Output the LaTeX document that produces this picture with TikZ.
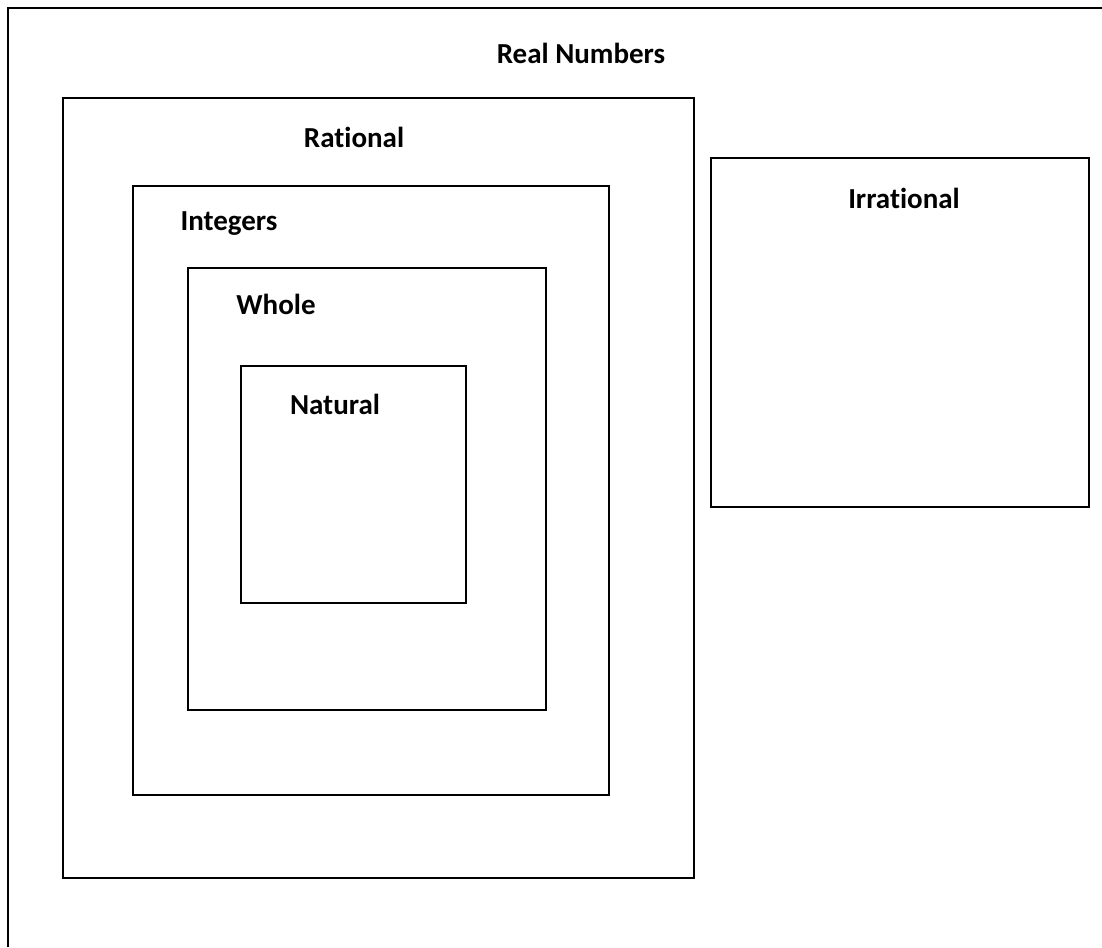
\documentclass[tikz,border=0pt]{standalone}
\usepackage{fontspec}
\setmainfont{Carlito}[Ligatures={NoCommon}]
\begin{document}
\begin{tikzpicture}[x=1pt,y=-1pt,
  setbox/.style={draw=black,line width=2pt,inner sep=0pt,outer sep=0pt},
  lbl/.style={font=\fontsize{29}{35}\selectfont\bfseries,inner sep=0pt,anchor=center}]
\useasboundingbox (0,0) rectangle (1102,947);
\fill[white] (0,0) rectangle (1102,947);
% outer Real Numbers frame (open on right and bottom)
\coordinate (rb) at (8,947);
\coordinate (rc) at (8,8);
\coordinate (rr) at (1102,8);
\draw[line width=2pt] (rb) -- (rc) -- (rr);
\node[lbl] (real) at (581,53) {Real Numbers};
% nested boxes
\node[setbox,minimum width=631pt,minimum height=780pt,anchor=north west] (rational) at (63,98) {};
\node[lbl] (rationallbl) at (354,137) {Rational};
\node[setbox,minimum width=476pt,minimum height=609pt,anchor=north west] (integers) at (133,186) {};
\node[lbl] (integerslbl) at (229,224) {Integers};
\node[setbox,minimum width=358pt,minimum height=442pt,anchor=north west] (whole) at (188,268) {};
\node[lbl] (wholelbl) at (276,304) {Whole};
\node[setbox,minimum width=225pt,minimum height=237pt,anchor=north west] (natural) at (241,366) {};
\node[lbl] (naturallbl) at (335,404) {Natural};
\node[setbox,minimum width=378pt,minimum height=349pt,anchor=north west] (irrational) at (711,158) {};
\node[lbl] (irrationallbl) at (904,198) {Irrational};
\end{tikzpicture}
\end{document}
